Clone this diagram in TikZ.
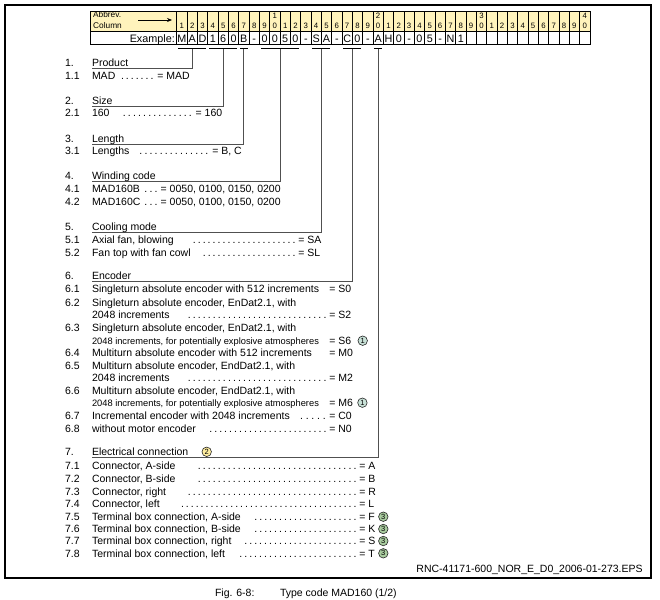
\documentclass[tikz,border=0pt]{standalone}
\usepackage{fontspec}
\setmainfont{Liberation Sans}
\usetikzlibrary{arrows.meta}
\definecolor{hdr}{RGB}{255,243,188}
\definecolor{cone}{RGB}{200,225,215}
\definecolor{ctwo}{RGB}{255,238,160}
\definecolor{cthree}{RGB}{170,205,160}
\definecolor{connc}{RGB}{80,80,80}
\tikzset{
 txt/.style={anchor=base west, inner sep=0pt, outer sep=0pt, font=\fontsize{10.5}{12}\selectfont},
 smalltxt/.style={txt, font=\fontsize{9.3}{11}\selectfont},
 hdtxt/.style={anchor=base, inner sep=0pt, font=\fontsize{7.8}{8}\selectfont},
 abtxt/.style={anchor=base west, inner sep=0pt, font=\fontsize{8.3}{9}\selectfont},
 extxt/.style={anchor=base, inner sep=0pt, font=\fontsize{10.8}{12}\selectfont},
 hcell/.style={draw=black, line width=0.6pt, fill=hdr, anchor=north west, inner sep=0pt, outer sep=0pt, minimum width=10.33pt, minimum height=20.7pt},
 ecell/.style={draw=black, line width=0.6pt, fill=white, anchor=north west, inner sep=0pt, outer sep=0pt, minimum width=10.33pt, minimum height=12.6pt},
 connline/.style={draw=connc, line width=1pt},
 brk/.style={draw=black, line width=1pt},
 circ/.style={circle, draw=black!85, line width=0.6pt, inner sep=0pt, minimum size=9.5pt, font=\fontsize{7.5}{8}\selectfont},
}
\newcommand\RowA[4]{\node[txt] (n#1) at (65,#2) {#3}; \node[txt] (t#1) at (92,#2) {#4};}
\newcommand\Dts[4]{\node[txt] (d#1) at (#3,#2) {\hbox to \dimexpr #4pt-#3pt\relax{\xleaders\hbox to 4.9pt{\hss.\hss}\hfill}};}
\newcommand\Val[4]{\node[txt] (v#1) at (#3,#2) {#4};}
\newcommand\Brk[4]{%
 \coordinate (bk#1a) at ({#2+1.5},49);
 \coordinate (bk#1b) at ({#3-1.5},49);
 \coordinate (bk#1m) at ({(#2+#3)/2},49);
 \coordinate (ul#1) at (91.7,#4);
 \draw[brk] (bk#1a) -- (bk#1b);
 \draw[connline] (bk#1m) |- (ul#1);}
\begin{document}
\begin{tikzpicture}[x=1pt,y=-1pt]
\useasboundingbox (0,0) rectangle (660,599);
% outer frame
\draw[line width=1.1pt] (5,5) rectangle (651,578);
% header
\node[hcell, minimum width=86.7pt] (abbr) at (90,11) {};
\node[ecell, minimum width=86.7pt] (exl) at (90,31.7) {};
\node[abtxt] (abtx) at (93,17.7) {Abbrev.};
\node[abtxt] (coltx) at (93,29) {Column};
\coordinate (arA) at (138,20);
\coordinate (arB) at (172,20);
\draw[line width=0.8pt, -{Stealth[length=5pt,width=4pt]}] (arA) -- (arB);
\node[extxt, anchor=base east] (extx) at (175,42.5) {Example:};
\foreach \i in {1,...,40}{
  \pgfmathsetmacro\xx{176.7+(\i-1)*10.33}
  \pgfmathsetmacro\xc{\xx+5.165}
  \pgfmathtruncatemacro\un{mod(\i,10)}
  \node[hcell] (h\i) at (\xx,11) {};
  \node[ecell] (e\i) at (\xx,31.7) {};
  \node[hdtxt] (hd\i) at (\xc,28.4) {\un};
}
\foreach \i/\t in {10/1,20/2,30/3,40/4}{
  \pgfmathsetmacro\xc{176.7+(\i-1)*10.33+5.165}
  \node[hdtxt] (ht\i) at (\xc,18.6) {\t};
}
\foreach \c [count=\i] in {M,A,D,1,6,0,B,-,0,0,5,0,-,S,A,-,C,0,-,A,H,0,-,0,5,-,N,1}{
  \pgfmathsetmacro\xc{176.7+(\i-1)*10.33+5.165}
  \node[extxt] (ex\i) at (\xc,42.5) {\c};
}
% brackets and connectors
\Brk{1}{176.7}{207.69}{68.3}
\Brk{2}{207.69}{238.68}{106.7}
\Brk{3}{238.68}{249.01}{144.3}
\Brk{4}{259.34}{300.66}{181.5}
\Brk{5}{310.99}{331.65}{232.3}
\Brk{6}{341.98}{362.64}{281.7}
\Brk{7}{372.97}{383.3}{457.3}
% section 1
\RowA{1}{66.3}{1.}{Product}
\RowA{11}{79.4}{1.1}{MAD}
\Dts{11}{79.4}{120}{154.5}
\Val{11}{79.4}{157.3}{= MAD}
% section 2
\RowA{2}{104.7}{2.}{Size}
\RowA{21}{117}{2.1}{160}
\Dts{21}{117}{121.7}{193}
\Val{21}{117}{195.7}{= 160}
% section 3
\RowA{3}{142.3}{3.}{Length}
\RowA{31}{154.7}{3.1}{Lengths}
\Dts{31}{154.7}{138.3}{209.5}
\Val{31}{154.7}{212.3}{= B, C}
% section 4
\RowA{4}{179.5}{4.}{Winding code}
\RowA{41}{192.7}{4.1}{MAD160B}
\Dts{41}{192.7}{143.3}{158.8}
\Val{41}{192.7}{160.7}{= 0050, 0100, 0150, 0200}
\RowA{42}{205}{4.2}{MAD160C}
\Dts{42}{205}{143.3}{158.8}
\Val{42}{205}{160.7}{= 0050, 0100, 0150, 0200}
% section 5
\RowA{5}{230.3}{5.}{Cooling mode}
\RowA{51}{243.7}{5.1}{Axial fan, blowing}
\Dts{51}{243.7}{191.7}{296.5}
\Val{51}{243.7}{298.3}{= SA}
\RowA{52}{256}{5.2}{Fan top with fan cowl}
\Dts{52}{256}{201.7}{296.5}
\Val{52}{256}{298.3}{= SL}
% section 6
\RowA{6}{279.7}{6.}{Encoder}
\RowA{61}{292.7}{6.1}{Singleturn absolute encoder with 512 increments}
\Val{61}{292.7}{329.3}{= S0}
\RowA{62}{306}{6.2}{Singleturn absolute encoder, EnDat2.1, with}
\node[txt] (t62c) at (92,318) {2048 increments};
\Dts{62}{318}{186.7}{327.5}
\Val{62}{318}{329.3}{= S2}
\RowA{63}{331}{6.3}{Singleturn absolute encoder, EnDat2.1, with}
\node[smalltxt] (t63c) at (92,344.4) {2048 increments, for potentially explosive atmospheres};
\Val{63}{344.4}{329.3}{= S6}
\node[circ, fill=cone] (c63) at (362.7,340.7) {1};
\RowA{64}{356}{6.4}{Multiturn absolute encoder with 512 increments}
\Val{64}{356}{329.3}{= M0}
\RowA{65}{369.4}{6.5}{Multiturn absolute encoder, EndDat2.1, with}
\node[txt] (t65c) at (92,381.4) {2048 increments};
\Dts{65}{381.4}{186.7}{327.5}
\Val{65}{381.4}{329.3}{= M2}
\RowA{66}{394.4}{6.6}{Multiturn absolute encoder, EndDat2.1, with}
\node[smalltxt] (t66c) at (92,406.4) {2048 increments, for potentially explosive atmospheres};
\Val{66}{406.4}{329.3}{= M6}
\node[circ, fill=cone] (c66) at (362.4,402.7) {1};
\RowA{67}{419.4}{6.7}{Incremental encoder with 2048 increments}
\Dts{67}{419.4}{298.3}{327.5}
\Val{67}{419.4}{329.3}{= C0}
\RowA{68}{432}{6.8}{without motor encoder}
\Dts{68}{432}{208.3}{327.5}
\Val{68}{432}{329.3}{= N0}
% section 7
\RowA{7}{455.3}{7.}{Electrical connection}
\node[circ, fill=ctwo] (c7) at (206.7,451.8) {2};
\RowA{71}{469.4}{7.1}{Connector, A-side}
\Dts{71}{469.4}{196.7}{357.5}
\Val{71}{469.4}{359.3}{= A}
\RowA{72}{482}{7.2}{Connector, B-side}
\Dts{72}{482}{196.7}{357.5}
\Val{72}{482}{359.3}{= B}
\RowA{73}{495.4}{7.3}{Connector, right}
\Dts{73}{495.4}{186.7}{357.5}
\Val{73}{495.4}{359.3}{= R}
\RowA{74}{507}{7.4}{Connector, left}
\Dts{74}{507}{180}{357.5}
\Val{74}{507}{359.3}{= L}
\RowA{75}{520.4}{7.5}{Terminal box connection, A-side}
\Dts{75}{520.4}{253.3}{357.5}
\Val{75}{520.4}{359.3}{= F}
\node[circ, fill=cthree] (c75) at (383.3,516.7) {3};
\RowA{76}{532.7}{7.6}{Terminal box connection, B-side}
\Dts{76}{532.7}{253.3}{357.5}
\Val{76}{532.7}{359.3}{= K}
\node[circ, fill=cthree] (c76) at (383.3,529) {3};
\RowA{77}{544.7}{7.7}{Terminal box connection, right}
\Dts{77}{544.7}{243.3}{357.5}
\Val{77}{544.7}{359.3}{= S}
\node[circ, fill=cthree] (c77) at (383.3,541) {3};
\RowA{78}{557}{7.8}{Terminal box connection, left}
\Dts{78}{557}{238.3}{357.5}
\Val{78}{557}{359.3}{= T}
\node[circ, fill=cthree] (c78) at (383.3,553.3) {3};
% file name
\node[txt, anchor=base east] (rnc) at (642.7,572) {RNC-41171-600\_NOR\_E\_D0\_2006-01-273.EPS};
% caption
\node[txt] (fig) at (215,596) {Fig. 6-8:};
\node[txt] (cap) at (280,596) {Type code MAD160 (1/2)};
\end{tikzpicture}
\end{document}
